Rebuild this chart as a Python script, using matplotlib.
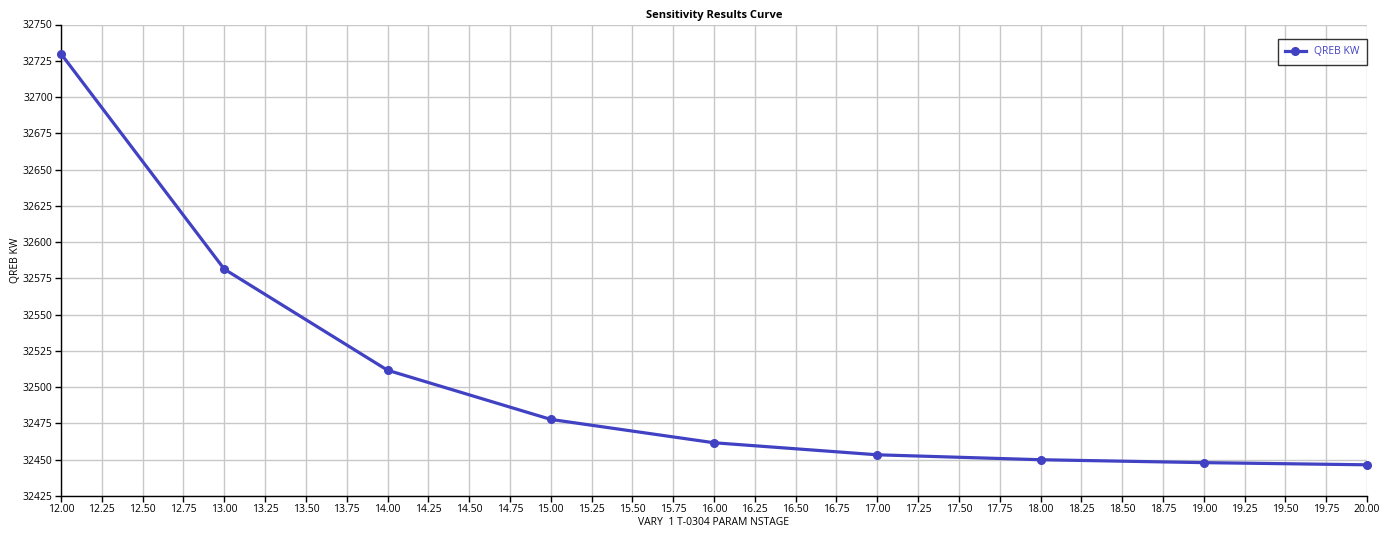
import numpy as np
import matplotlib
matplotlib.use("Agg")
import matplotlib.pyplot as plt
from matplotlib.ticker import MultipleLocator, FormatStrFormatter

# sensitivity results: number of stages vs reboiler duty
nstage = [12, 13, 14, 15, 16, 17, 18, 19, 20]
qreb_kw = [32729.8, 32581.4, 32511.7, 32477.8, 32461.7, 32453.4, 32450.0, 32448.0, 32446.5]

plt.rcParams["font.family"] = ["Open Sans", "Noto Sans", "DejaVu Sans"]
line_color = "#4141C3"

fig = plt.figure(figsize=(13.9, 5.35), dpi=100)
ax = fig.add_axes([61 / 1390, 1 - 496 / 535, (1367 - 61) / 1390, (496 - 24.5) / 535])

ax.plot(nstage, qreb_kw, color=line_color, lw=2.3, marker="o", markersize=5.5,
        label="QREB KW", clip_on=False, zorder=3)

ax.set_xlim(12, 20)
ax.set_ylim(32425, 32750)
ax.xaxis.set_major_locator(MultipleLocator(0.25))
ax.xaxis.set_major_formatter(FormatStrFormatter("%.2f"))
ax.yaxis.set_major_locator(MultipleLocator(25))
ax.yaxis.set_major_formatter(FormatStrFormatter("%d"))

ax.grid(True, color="#C8C8C8", lw=1)
ax.set_axisbelow(True)
for side in ["top", "right"]:
    ax.spines[side].set_visible(False)
for side in ["left", "bottom"]:
    ax.spines[side].set_color("black")
    ax.spines[side].set_linewidth(1)
ax.tick_params(direction="out", length=4, width=1, labelsize=7.5, pad=2)

ax.set_title("Sensitivity Results Curve", fontsize=8, fontweight="bold", pad=5)
ax.set_xlabel("VARY  1 T-0304 PARAM NSTAGE", fontsize=7.5, labelpad=1)
ax.set_ylabel("QREB KW", fontsize=7.5)
ax.yaxis.set_label_coords(-0.0306, 0.5)

leg = ax.legend(loc="upper right", bbox_to_anchor=(1.0, 0.969), borderaxespad=0,
                fontsize=7.5, frameon=True, fancybox=False, handlelength=2.0,
                borderpad=0.7)
leg.get_frame().set_edgecolor("black")
leg.get_frame().set_linewidth(1)
for t in leg.get_texts():
    t.set_color(line_color)

fig.savefig("out.png", dpi=100)
